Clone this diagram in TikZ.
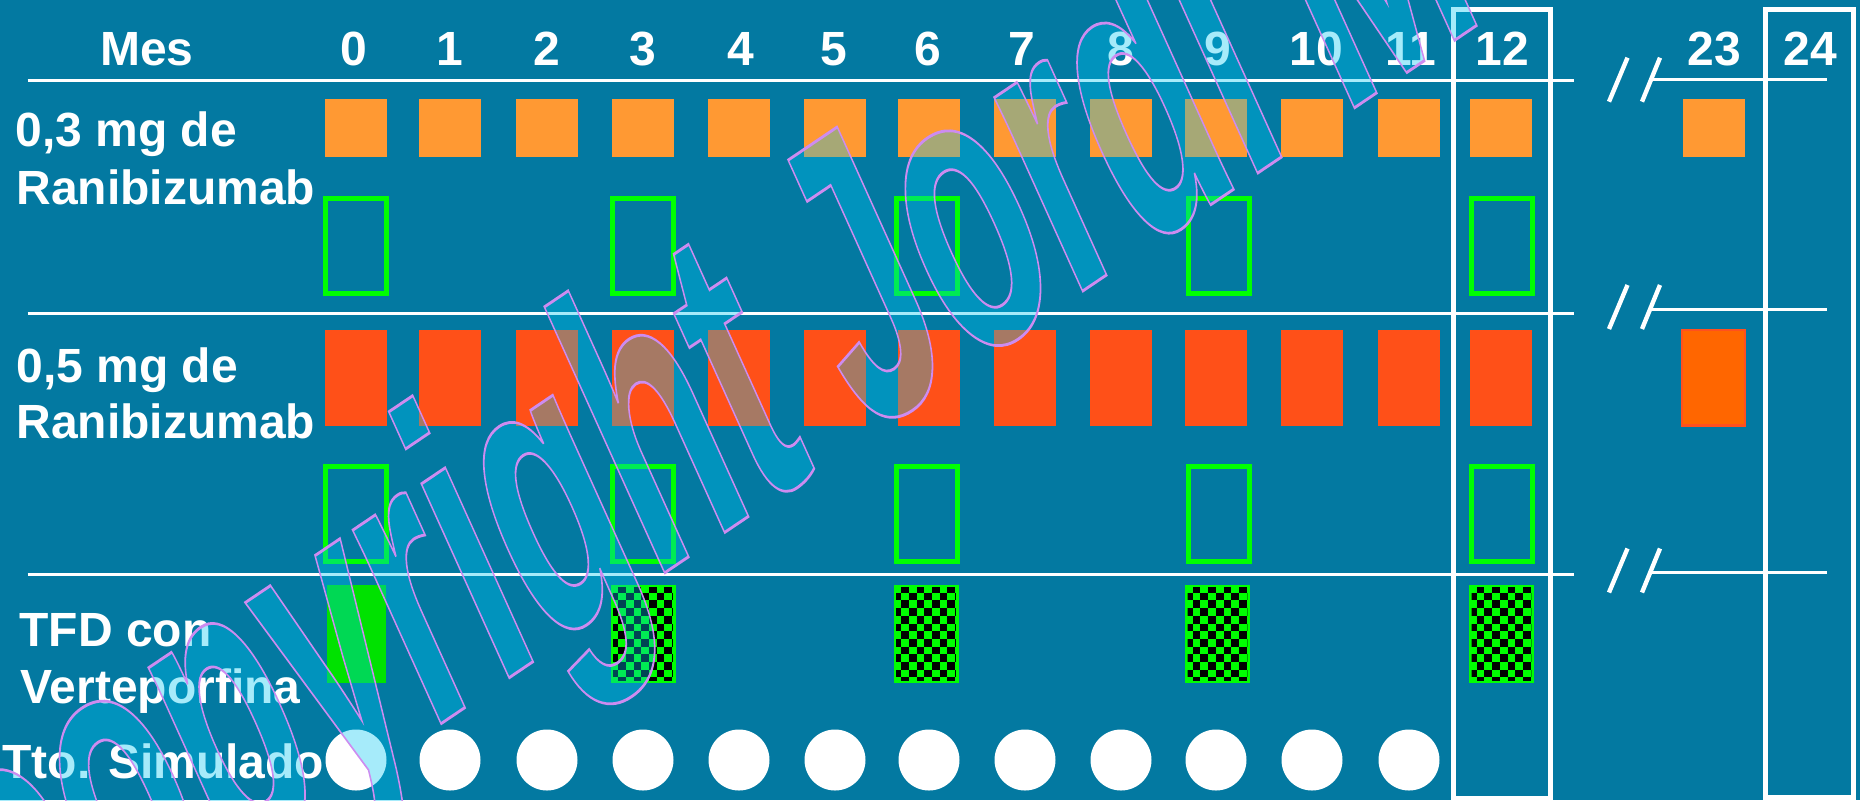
\documentclass[tikz,border=0pt]{standalone}
\usepackage{fontspec}
\setmainfont{Liberation Sans}
\usetikzlibrary{calc}
\definecolor{bg}{RGB}{3,121,161}
\definecolor{dose3}{RGB}{255,153,51}
\definecolor{dose5}{RGB}{255,80,24}
\definecolor{dose5b}{RGB}{255,102,0}
\definecolor{brd5b}{RGB}{255,80,30}
\definecolor{grn}{RGB}{0,255,0}
\definecolor{grnsolid}{RGB}{0,226,0}
\definecolor{wmfill}{RGB}{0,198,243}
\newcommand{\chkpattern}[1]{%
  \begin{scope}
    \clip ([shift={(1.35pt,-1.35pt)}]#1.north west) rectangle ([shift={(-1.35pt,1.35pt)}]#1.south east);
    \foreach \cc in {0,...,8}{\foreach \rr in {0,...,12}{%
      \ifodd\numexpr\cc+\rr\relax
        \fill[black] ([shift={(\cc*3.85pt,-\rr*3.85pt)}]#1.north west) rectangle ++(3.85pt,-3.85pt);
      \fi}}
  \end{scope}}
\tikzset{
  txt/.style={font=\bfseries\fontsize{24}{28.8}\selectfont, text=white, inner sep=0},
  lbl/.style={txt, anchor=base west},
  hdr/.style={txt, anchor=base},
  cell/.style={inner sep=0, outer sep=0, draw=none},
  inj3/.style={cell, fill=dose3, minimum width=31pt, minimum height=29pt},
  inj5/.style={cell, fill=dose5, minimum width=31pt, minimum height=48pt},
  inj5b/.style={cell, fill=dose5b, draw=brd5b, line width=1.2pt, minimum width=31.3pt, minimum height=47.8pt},
  exam/.style={cell, draw=grn, line width=2.5pt, minimum width=30.5pt, minimum height=47.5pt},
  chk/.style={cell, fill=grn, minimum width=32.5pt, minimum height=49pt},
  pdt/.style={cell, fill=grnsolid, minimum width=29.5pt, minimum height=49pt},
  sham/.style={cell, circle, fill=white, minimum size=30.5pt},
  hline/.style={draw=white, line width=1.5pt},
  slash/.style={draw=white, line width=2.2pt},
  yearbox/.style={draw=white, line width=2.5pt},
  wmark/.style={transform shape, anchor=base west, inner sep=0,
        font=\bfseries\fontsize{105.5}{110}\selectfont},
}
\begin{document}
\begin{tikzpicture}[x=0.5pt,y=-0.5pt]
\useasboundingbox (0,0) rectangle (1860,800);
\fill[bg] (0,0) rectangle (1860,800);
\clip (0,0) rectangle (1860,800);

% header
\node[hdr] (mes) at (147,65) {Mes};
\foreach \x [count=\i from 0] in {354,450,547,643,741,834,928,1022,1121,1218,1316,1411,1502}
  \node[hdr] (h\i) at (\x,65) {\i};
\node[hdr] (h23) at (1714,65) {23};
\node[hdr] (h24) at (1810,65) {24};

% row labels
\node[lbl] (l03a) at (15,146) {0,3 mg de};
\node[lbl] (l03b) at (16,204) {Ranibizumab};
\node[lbl] (l05a) at (16,382) {0,5 mg de};
\node[lbl] (l05b) at (16,438) {Ranibizumab};
\node[lbl] (ltfda) at (19,646) {TFD con};
\node[lbl] (ltfdb) at (20,703) {Verteporfina};
\node[lbl] (ltto) at (2,778) {Tto. Simulado};

% separators
\foreach \y in {80.7,313,574}
  \draw[hline] (27.7,\y) -- (1573.6,\y);
\foreach \y/\yc in {79.3/79.7,309.3/307,572.7/570.5}{
  \draw[hline] (1652,\y) -- (1827,\y);
  \draw[slash] (1609,\yc+22) -- (1627.5,\yc-22);
  \draw[slash] (1642,\yc+22) -- (1660,\yc-22);
}
\draw[yearbox] (1453.5,9.7) rectangle (1550,798);
\draw[yearbox] (1765.5,9.7) rectangle (1853.5,797.5);

% injections
\foreach \x [count=\i from 0] in {356,450,547,643,739,835,929,1025,1121,1216,1312,1409,1501}{
  \node[inj3] (a\i) at (\x,128) {};
  \node[inj5] (b\i) at (\x,378) {};
}
\node[inj3] (a23) at (1714,128) {};
\node[inj5b] (b23) at (1713.5,377.7) {};

% examinations
\foreach \i/\x in {0/356,3/643,6/927,9/1219,12/1502}{
  \node[exam] (e\i) at (\x,246) {};
  \node[exam] (f\i) at (\x,513.5) {};
}

% PDT
\node[pdt] (p0) at (356.5,634) {};
\foreach \i/\x in {3/643,6/926,9/1217.5,12/1501.5}{
  \node[chk] (p\i) at (\x,634) {};
  \chkpattern{p\i}
}

% sham
\foreach \x [count=\i from 0] in {356,450,547,643,739,835,929,1025,1121,1216,1312,1409}
  \node[sham] (s\i) at (\x,760) {};

% watermark: translucent fill, then violet outline
\begin{scope}[shift={(20,1007.5)}, cm={0.8294,0.5592,-0.7867,1.7393,(0,0)}]
  \node[wmark, text=wmfill, text opacity=0.35] (wm) at (0,0) {copyright Jordi M};
  \node[wmark, text=bg] (wmo) at (0,0)
    {\special{pdf:literal direct 0.804 0.549 0.941 RG 0.75 w 1 Tr}copyright Jordi M\special{pdf:literal direct 0 Tr}};
\end{scope}
\end{tikzpicture}
\end{document}
